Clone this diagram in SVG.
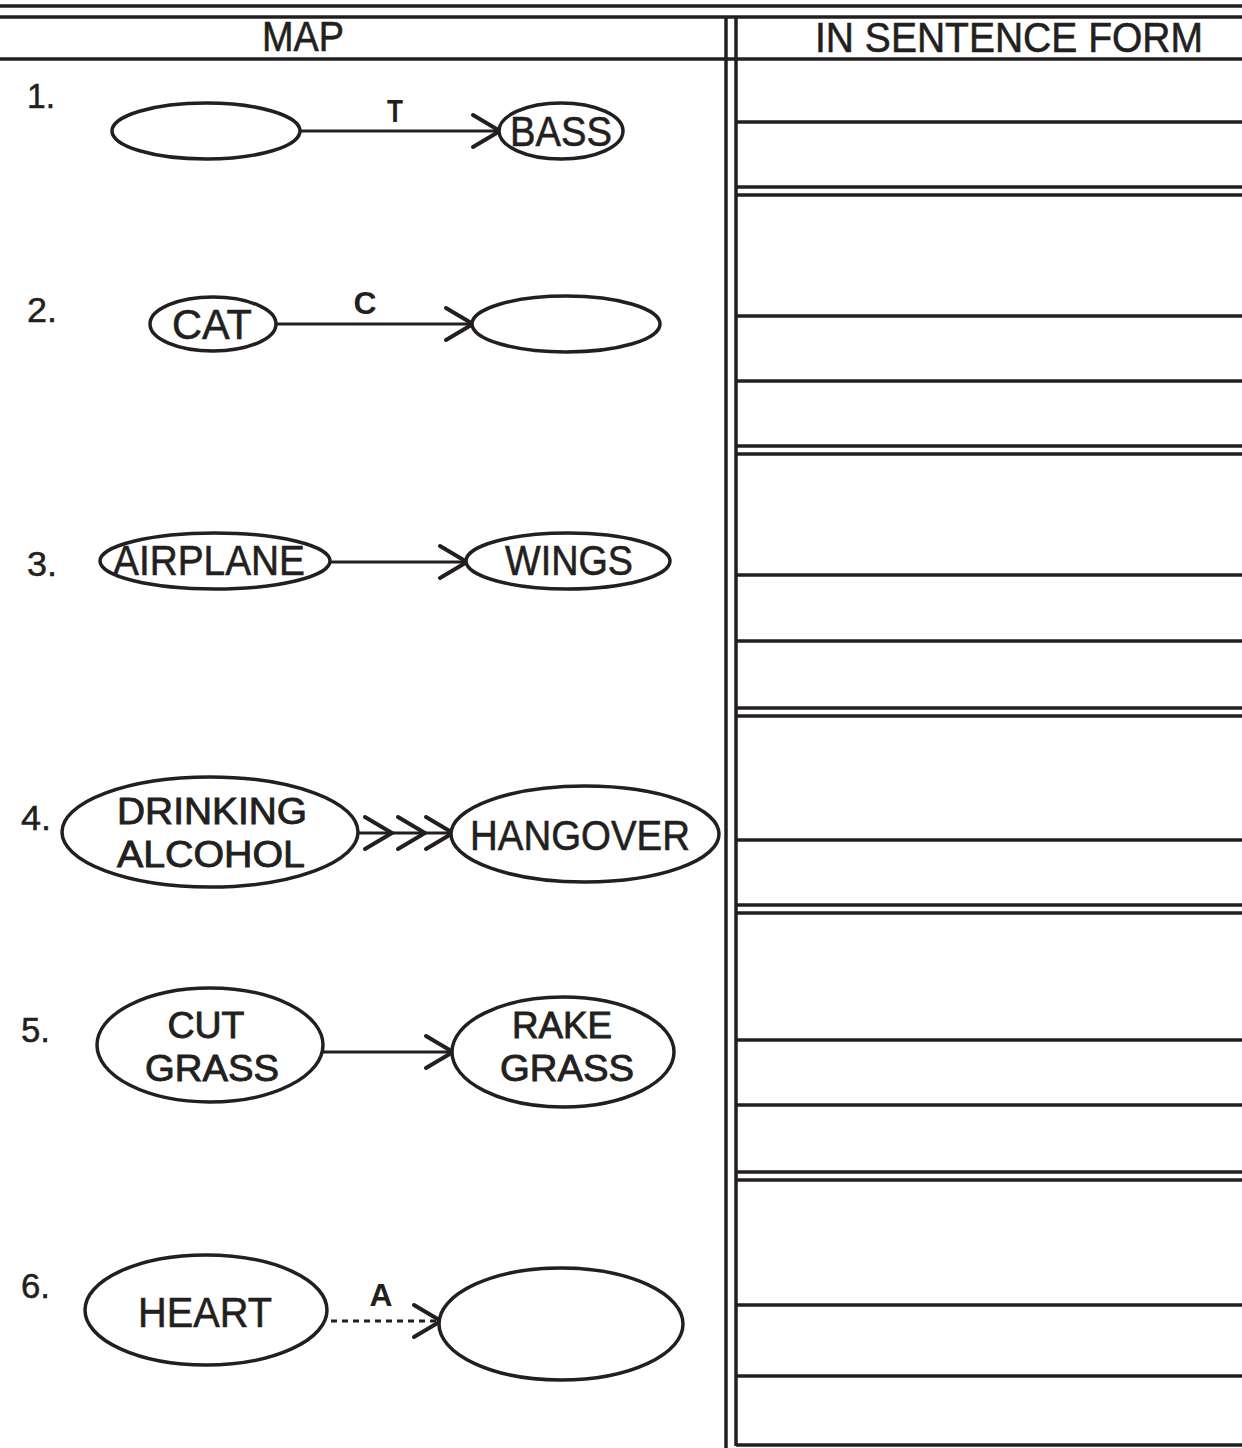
<svg xmlns="http://www.w3.org/2000/svg" width="1242" height="1448" viewBox="0 0 1242 1448">
<style>
.rule{stroke:#231f20;stroke-width:3.5;fill:none}
.node{fill:#fff;stroke:#231f20;stroke-width:3.5}
.lbl{font-family:"Liberation Sans",Arial,sans-serif;font-size:43px;fill:#231f20;stroke:#231f20;stroke-width:0.6;text-anchor:middle}
.lbl2{font-size:37px;stroke-width:0.9}
.num{font-family:"Liberation Sans",Arial,sans-serif;font-size:35px;fill:#231f20;stroke:#231f20;stroke-width:0.5}
.rel{font-family:"Liberation Sans",Arial,sans-serif;font-size:32px;font-weight:bold;fill:#231f20;text-anchor:middle}
.edge{stroke:#231f20;stroke-width:3;fill:none}
.chev{stroke:#231f20;stroke-width:4;fill:none;stroke-linecap:round;stroke-linejoin:miter}
</style>
<defs>
<marker id="chev" markerUnits="userSpaceOnUse" viewBox="-32 -20 36 40" refX="0" refY="0" markerWidth="36" markerHeight="40" orient="auto">
<path d="M-27,-16 L0,0 L-27,16" class="chev"/>
</marker>
</defs>
<rect width="1242" height="1448" fill="#fff"/>
<g id="table">
<line class="rule" x1="0" y1="6" x2="1242" y2="6"/>
<line class="rule" x1="0" y1="17" x2="1242" y2="17"/>
<line class="rule" x1="0" y1="59" x2="1242" y2="59"/>
<line class="rule" x1="726" y1="17" x2="726" y2="1448"/>
<line class="rule" x1="736" y1="17" x2="736" y2="1446"/>
<line class="rule" x1="736" y1="122" x2="1242" y2="122"/>
<line class="rule" x1="736" y1="187" x2="1242" y2="187"/>
<line class="rule" x1="736" y1="195" x2="1242" y2="195"/>
<line class="rule" x1="736" y1="316" x2="1242" y2="316"/>
<line class="rule" x1="736" y1="381" x2="1242" y2="381"/>
<line class="rule" x1="736" y1="446" x2="1242" y2="446"/>
<line class="rule" x1="736" y1="454" x2="1242" y2="454"/>
<line class="rule" x1="736" y1="575" x2="1242" y2="575"/>
<line class="rule" x1="736" y1="641" x2="1242" y2="641"/>
<line class="rule" x1="736" y1="708" x2="1242" y2="708"/>
<line class="rule" x1="736" y1="716" x2="1242" y2="716"/>
<line class="rule" x1="736" y1="840" x2="1242" y2="840"/>
<line class="rule" x1="736" y1="905" x2="1242" y2="905"/>
<line class="rule" x1="736" y1="913" x2="1242" y2="913"/>
<line class="rule" x1="736" y1="1040" x2="1242" y2="1040"/>
<line class="rule" x1="736" y1="1105" x2="1242" y2="1105"/>
<line class="rule" x1="736" y1="1172" x2="1242" y2="1172"/>
<line class="rule" x1="736" y1="1180" x2="1242" y2="1180"/>
<line class="rule" x1="736" y1="1305" x2="1242" y2="1305"/>
<line class="rule" x1="736" y1="1376" x2="1242" y2="1376"/>
<line class="rule" x1="736" y1="1445" x2="1242" y2="1445"/>
<text class="lbl" x="303" y="51" textLength="82" lengthAdjust="spacingAndGlyphs">MAP</text>
<text class="lbl" x="1009" y="52" textLength="388" lengthAdjust="spacingAndGlyphs">IN SENTENCE FORM</text>
</g>
<g id="numbers">
<text class="num" x="27" y="108" textLength="28" lengthAdjust="spacingAndGlyphs">1.</text>
<text class="num" x="27" y="322" textLength="30" lengthAdjust="spacingAndGlyphs">2.</text>
<text class="num" x="27" y="576" textLength="30" lengthAdjust="spacingAndGlyphs">3.</text>
<text class="num" x="21" y="830" textLength="30" lengthAdjust="spacingAndGlyphs">4.</text>
<text class="num" x="21" y="1042" textLength="29" lengthAdjust="spacingAndGlyphs">5.</text>
<text class="num" x="21" y="1298" textLength="29" lengthAdjust="spacingAndGlyphs">6.</text>
</g>
<g id="connectors">
<line class="edge" x1="300" y1="131" x2="500" y2="131" marker-end="url(#chev)"/>
<text class="rel" x="395" y="122" textLength="16" lengthAdjust="spacingAndGlyphs">T</text>
<line class="edge" x1="276" y1="324" x2="473" y2="324" marker-end="url(#chev)"/>
<text class="rel" x="365" y="314" textLength="23" lengthAdjust="spacingAndGlyphs">C</text>
<line class="edge" x1="330" y1="562" x2="467" y2="562" marker-end="url(#chev)"/>
<line class="edge" x1="358" y1="833" x2="392" y2="833" marker-end="url(#chev)"/>
<line class="edge" x1="392" y1="833" x2="425" y2="833" marker-end="url(#chev)"/>
<line class="edge" x1="425" y1="833" x2="453" y2="833" marker-end="url(#chev)"/>
<line class="edge" x1="323" y1="1052" x2="453" y2="1052" marker-end="url(#chev)"/>
<line class="edge" x1="331" y1="1321" x2="441" y2="1321" stroke-dasharray="6 5" marker-end="url(#chev)"/>
<text class="rel" x="381" y="1306" textLength="23" lengthAdjust="spacingAndGlyphs">A</text>
</g>
<g id="n1a"><ellipse class="node" cx="206" cy="131" rx="94" ry="28"/></g>
<g id="n1b"><ellipse class="node" cx="561" cy="131" rx="62" ry="28"/><text class="lbl" x="561" y="146" textLength="102" lengthAdjust="spacingAndGlyphs">BASS</text></g>
<g id="n2a"><ellipse class="node" cx="213" cy="324" rx="63" ry="27"/><text class="lbl" x="212" y="339" textLength="80" lengthAdjust="spacingAndGlyphs">CAT</text></g>
<g id="n2b"><ellipse class="node" cx="566" cy="324" rx="94" ry="28"/></g>
<g id="n3a"><ellipse class="node" cx="215" cy="561" rx="115" ry="28"/><text class="lbl" x="209" y="575" textLength="192" lengthAdjust="spacingAndGlyphs">AIRPLANE</text></g>
<g id="n3b"><ellipse class="node" cx="568" cy="561" rx="102" ry="28"/><text class="lbl" x="569" y="575" textLength="128" lengthAdjust="spacingAndGlyphs">WINGS</text></g>
<g id="n4a"><ellipse class="node" cx="210" cy="832" rx="148" ry="55"/><text class="lbl lbl2"><tspan x="212" y="824" textLength="190" lengthAdjust="spacingAndGlyphs">DRINKING</tspan><tspan x="211" y="867" textLength="188" lengthAdjust="spacingAndGlyphs">ALCOHOL</tspan></text></g>
<g id="n4b"><ellipse class="node" cx="585" cy="834" rx="134" ry="48"/><text class="lbl" x="580" y="850" textLength="220" lengthAdjust="spacingAndGlyphs">HANGOVER</text></g>
<g id="n5a"><ellipse class="node" cx="210" cy="1045" rx="113" ry="57"/><text class="lbl lbl2"><tspan x="206" y="1038" textLength="77" lengthAdjust="spacingAndGlyphs">CUT</tspan><tspan x="212" y="1081" textLength="134" lengthAdjust="spacingAndGlyphs">GRASS</tspan></text></g>
<g id="n5b"><ellipse class="node" cx="563" cy="1052" rx="111" ry="55"/><text class="lbl lbl2"><tspan x="562" y="1038" textLength="100" lengthAdjust="spacingAndGlyphs">RAKE</tspan><tspan x="567" y="1081" textLength="134" lengthAdjust="spacingAndGlyphs">GRASS</tspan></text></g>
<g id="n6a"><ellipse class="node" cx="206" cy="1310" rx="121" ry="55"/><text class="lbl" x="205" y="1327" textLength="134" lengthAdjust="spacingAndGlyphs">HEART</text></g>
<g id="n6b"><ellipse class="node" cx="561" cy="1324" rx="122" ry="56"/></g>
</svg>
